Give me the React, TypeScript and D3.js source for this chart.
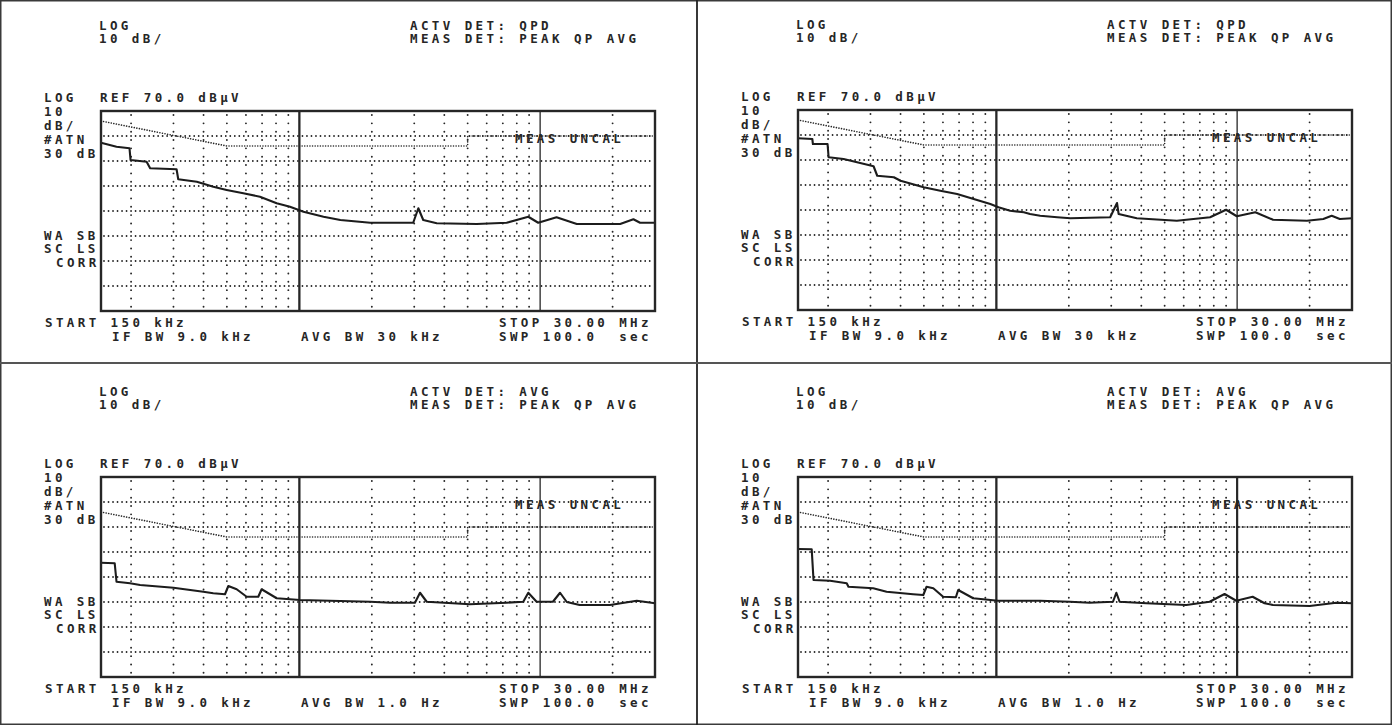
import React from "react";
import * as d3 from "d3";

// ---------- data (frequency in MHz, level in dBµV) ----------
const FREQ_START = 0.15;
const FREQ_STOP = 30;
const REF_LEVEL = 70;
const BOTTOM_LEVEL = -10;

const gridLevels = [60, 50, 40, 30, 20, 10, 0];
const gridFreqsDotted = [0.2, 0.3, 0.4, 0.5, 0.6, 0.7, 0.8, 0.9, 2, 3, 4, 5, 6, 7, 8, 9, 20];
const gridFreqDecade1 = 1;
const gridFreqDecade10 = 10;

const qpLimit: [number, number][] = [[0.15, 66], [0.5, 56], [5, 56], [5, 60], [30, 60]];
const avgLimit: [number, number][] = [[0.15, 56], [0.5, 46], [5, 46], [5, 50], [30, 50]];

const qpTraceA: [number, number][] = [
  [0.15, 57.3], [0.174, 55.7], [0.197, 55.1], [0.199, 50.4], [0.232, 49.7], [0.24, 47.1],
  [0.309, 46.7], [0.314, 42.7], [0.375, 41.7], [0.439, 39.7], [0.499, 38.4], [0.585, 37.1],
  [0.686, 35.7], [0.805, 33.1], [0.914, 31.7], [1.04, 29.7], [1.26, 27.7], [1.48, 26.4],
  [1.97, 25.3], [2.97, 25.3], [3.12, 31.1], [3.27, 26.4], [3.72, 25.1], [5.45, 24.8],
  [7.26, 25.3], [8.93, 27.7], [9.82, 25.3], [11.7, 27.5], [14.2, 24.8], [21.5, 24.8],
  [24.4, 26.7], [26.0, 25.3], [30, 25.3],
];

const qpTraceB: [number, number][] = [
  [0.15, 58.7], [0.172, 58.4], [0.173, 56.4], [0.199, 56.4], [0.201, 51.1], [0.232, 50.4],
  [0.264, 49.1], [0.309, 47.5], [0.32, 43.7], [0.375, 43.1], [0.4, 41.7], [0.499, 39.1],
  [0.585, 37.7], [0.687, 36.4], [0.805, 34.4], [0.944, 32.4], [1.02, 31.1], [1.14, 29.7],
  [1.3, 29.1], [1.38, 28.4], [1.52, 27.7], [1.79, 27.1], [2.03, 26.7], [2.97, 27.1],
  [3.17, 32.8], [3.22, 28.4], [3.83, 26.7], [5.62, 25.7], [7.72, 27.1], [9.0, 30.1],
  [9.97, 27.5], [11.9, 29.1], [14.1, 26.1], [19.5, 25.7], [22.8, 26.4], [24.7, 27.7],
  [26.7, 26.4], [30, 26.7],
];

const avgTraceA: [number, number][] = [
  [0.15, 35.7], [0.171, 35.5], [0.174, 28.1], [0.198, 27.5], [0.218, 26.8], [0.3, 25.7],
  [0.399, 24.1], [0.439, 23.5], [0.491, 23.1], [0.507, 26.4], [0.549, 25.1], [0.604, 22.1],
  [0.675, 22.1], [0.697, 25.1], [0.805, 21.5], [1.006, 20.8], [1.97, 20.1], [2.38, 19.7],
  [3.02, 19.7], [3.17, 23.7], [3.38, 20.1], [5.11, 19.1], [7.26, 19.7], [8.51, 20.1],
  [8.93, 23.7], [9.67, 20.1], [11.3, 20.1], [12.1, 23.7], [12.9, 20.0], [14.6, 18.8],
  [19.5, 18.8], [25.2, 20.5], [30, 19.5],
];

const avgTraceB: [number, number][] = [
  [0.15, 41.2], [0.171, 41.1], [0.174, 28.8], [0.204, 28.5], [0.239, 27.5], [0.243, 26.1],
  [0.308, 25.5], [0.35, 24.1], [0.451, 23.1], [0.497, 22.8], [0.513, 26.1], [0.547, 25.5],
  [0.601, 22.1], [0.679, 21.9], [0.694, 24.8], [0.801, 21.5], [1.017, 20.5], [1.52, 20.5],
  [2.02, 20.1], [2.44, 19.7], [3.05, 20.1], [3.15, 23.7], [3.25, 20.1], [4.2, 19.5],
  [6.15, 18.8], [7.69, 20.1], [8.87, 23.2], [9.92, 20.5], [11.6, 22.1], [13.0, 19.5],
  [14.1, 18.8], [20.0, 18.4], [25.8, 19.7], [30, 19.5],
];

const activeDetectors = ["QPD", "QPD", "AVG", "AVG"];
const avgBandwidths = ["30 kHz", "30 kHz", "1.0 Hz", "1.0 Hz"];

// ---------- layout ----------
const W = 1392;
const H = 725;
const PW = 554;
const PH = 200;

const panelLayout = [
  { ox: 101, oy: 111, thick10: false },
  { ox: 798, oy: 110, thick10: false },
  { ox: 101, oy: 477, thick10: false },
  { ox: 798, oy: 477, thick10: true },
];
const panelData = [
  { limit: qpLimit, trace: qpTraceA },
  { limit: qpLimit, trace: qpTraceB },
  { limit: avgLimit, trace: avgTraceA },
  { limit: avgLimit, trace: avgTraceB },
];

const INK = "#262626";
const textStyle: React.CSSProperties = {
  fontFamily: "'DejaVu Sans Mono', 'Liberation Mono', monospace",
  fontWeight: 700,
  fontSize: 12.5,
  letterSpacing: 3.4,
  whiteSpace: "pre",
};

function T({ x, y, children }: { x: number; y: number; children: string }) {
  return (
    <text x={x} y={y} fill={INK} style={textStyle}>
      {children}
    </text>
  );
}

function Panel({ idx }: { idx: number }) {
  const { ox, oy, thick10 } = panelLayout[idx];
  const { limit, trace } = panelData[idx];
  const x = d3.scaleLog().domain([FREQ_START, FREQ_STOP]).range([ox, ox + PW]);
  const y = d3.scaleLinear().domain([REF_LEVEL, BOTTOM_LEVEL]).range([oy, oy + PH]);
  const line = d3
    .line<[number, number]>()
    .x((d) => x(d[0]))
    .y((d) => y(d[1]));

  return (
    <g>
      {/* header */}
      <T x={ox - 2} y={oy - 81.5}>LOG</T>
      <T x={ox - 2} y={oy - 68.5}>10 dB/</T>
      <T x={ox + 309} y={oy - 81.5}>{`ACTV DET: ${activeDetectors[idx]}`}</T>
      <T x={ox + 309} y={oy - 68.5}>MEAS DET: PEAK QP AVG</T>
      <T x={ox - 57} y={oy - 9.5}>LOG</T>
      <T x={ox - 1} y={oy - 9.5}>REF 70.0 dBµV</T>
      {/* left annotations */}
      <T x={ox - 57} y={oy + 5}>10</T>
      <T x={ox - 57} y={oy + 18.5}>dB/</T>
      <T x={ox - 57} y={oy + 33}>#ATN</T>
      <T x={ox - 57} y={oy + 47}>30 dB</T>
      <T x={ox - 57} y={oy + 129}>WA SB</T>
      <T x={ox - 57} y={oy + 142}>SC LS</T>
      <T x={ox - 45} y={oy + 155.5}>CORR</T>
      {/* footer */}
      <T x={ox - 56} y={oy + 216}>START 150 kHz</T>
      <T x={ox + 11} y={oy + 230}>IF BW 9.0 kHz</T>
      <T x={ox + 200} y={oy + 230}>{`AVG BW ${avgBandwidths[idx]}`}</T>
      <T x={ox + 398} y={oy + 216}>STOP 30.00 MHz</T>
      <T x={ox + 398} y={oy + 230}>SWP 100.0  sec</T>

      {/* horizontal dotted grid */}
      {gridLevels.map((lv) => (
        <line
          key={"h" + lv}
          x1={ox + 3}
          x2={ox + PW - 2}
          y1={y(lv)}
          y2={y(lv)}
          stroke={INK}
          strokeWidth={1.8}
          strokeDasharray="0.01 4.5"
          strokeLinecap="round"
        />
      ))}
      {/* vertical dotted grid */}
      {gridFreqsDotted.map((f) => (
        <line
          key={"v" + f}
          x1={x(f)}
          x2={x(f)}
          y1={oy + 4}
          y2={oy + PH - 2}
          stroke={INK}
          strokeWidth={1.9}
          strokeDasharray="0.01 8.33"
          strokeLinecap="round"
        />
      ))}
      {/* decade lines */}
      <line x1={x(gridFreqDecade1)} x2={x(gridFreqDecade1)} y1={oy} y2={oy + PH} stroke={INK} strokeWidth={2.3} />
      <line
        x1={x(gridFreqDecade10)}
        x2={x(gridFreqDecade10)}
        y1={oy}
        y2={oy + PH}
        stroke={INK}
        strokeWidth={thick10 ? 2.2 : 1.3}
      />

      {/* limit line */}
      <path
        d={line(limit) || ""}
        fill="none"
        stroke={INK}
        strokeWidth={1.6}
        strokeDasharray="0.01 2.6"
        strokeLinecap="round"
      />
      <T x={ox + 414} y={oy + 32}>MEAS UNCAL</T>

      {/* trace */}
      <path d={line(trace) || ""} fill="none" stroke="#1c1c1c" strokeWidth={2.1} strokeLinejoin="round" />

      {/* frame */}
      <rect x={ox} y={oy} width={PW} height={PH} fill="none" stroke={INK} strokeWidth={2.4} />
    </g>
  );
}

export default function App() {
  return (
    <svg
      width={W}
      height={H}
      viewBox={`0 0 ${W} ${H}`}
      style={{ position: "absolute", left: 0, top: 0, background: "#fff" }}
    >
      <rect x={0} y={0} width={W} height={H} fill="#fff" />
      {panelLayout.map((_, i) => (
        <Panel key={i} idx={i} />
      ))}
      {/* table borders */}
      <rect x={0.75} y={0.75} width={W - 1.5} height={H - 1.5} fill="none" stroke="#3a3a3a" strokeWidth={1.5} />
      <line x1={697} x2={697} y1={0} y2={H} stroke="#222" strokeWidth={1.8} />
      <line x1={0} x2={W} y1={363} y2={363} stroke="#555" strokeWidth={1.8} />
    </svg>
  );
}
